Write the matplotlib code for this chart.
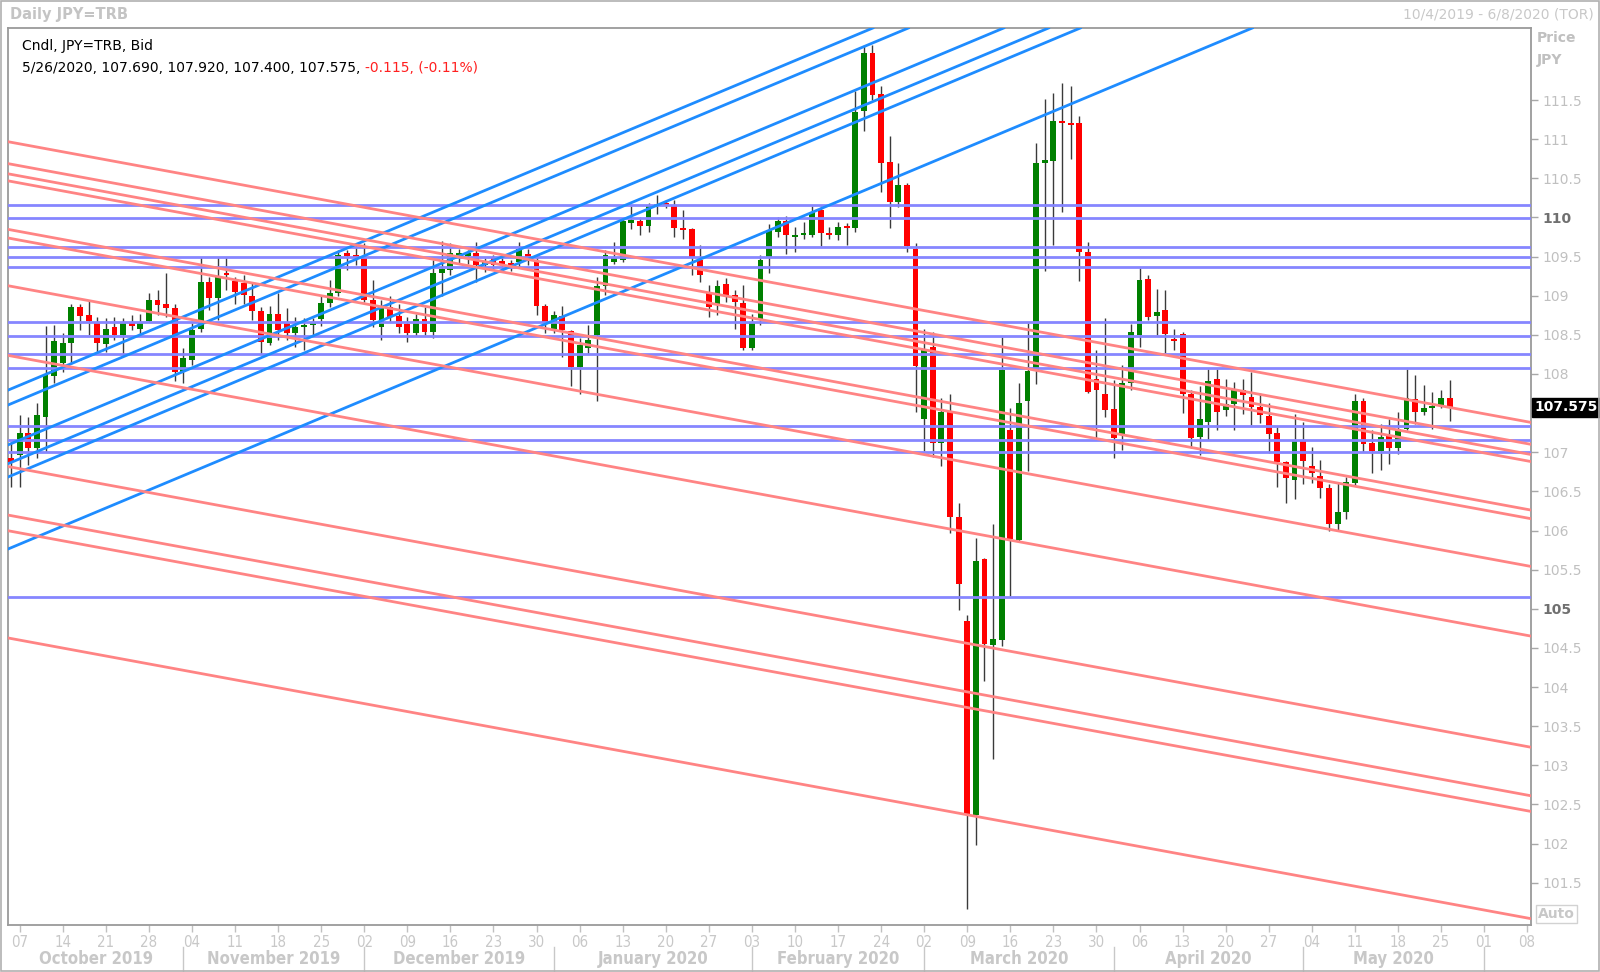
"""Daily JPY=TRB candlestick chart with drawn support / resistance lines."""

import matplotlib

matplotlib.use("Agg")
import matplotlib.pyplot as plt
import matplotlib.transforms as mtransforms
from matplotlib import font_manager
from matplotlib.patches import Rectangle
import numpy as np
import pandas as pd

START_DATE = "2019-10-04"
END_DATE = "2020-06-08"

# daily candles, 2019-10-04 .. 2020-05-26 (every weekday)
opens = [
    106.92, 106.96, 107.25, 107.05, 107.45, 107.97, 108.14, 108.40, 108.86, 108.75,
    108.65, 108.38, 108.60, 108.50, 108.65, 108.58, 108.68, 108.94, 108.89, 108.84,
    108.02, 108.18, 108.57, 109.17, 108.97, 109.29, 109.19, 109.16, 108.99, 108.80,
    108.39, 108.77, 108.65, 108.52, 108.60, 108.63, 108.70, 108.91, 109.04, 109.54,
    109.52, 109.48, 108.95, 108.60, 108.85, 108.74, 108.64, 108.52, 108.70, 108.54,
    109.29, 109.33, 109.51, 109.51, 109.55, 109.39, 109.48, 109.44, 109.41, 109.43,
    109.53, 109.46, 108.87, 108.58, 108.74, 108.55, 108.09, 108.33, 108.50, 109.12,
    109.43, 109.46, 109.93, 109.96, 109.89, 110.14, 110.18, 110.14, 109.87, 109.85,
    109.46, 109.05, 108.90, 109.15, 109.01, 108.91, 108.33, 108.70, 109.50, 109.82,
    109.96, 109.75, 109.77, 109.78, 110.09, 109.80, 109.77, 109.88, 109.86, 111.36,
    112.10, 111.58, 110.71, 110.20, 110.41, 109.60, 107.42, 108.34, 107.12, 107.51,
    106.17, 104.85, 102.36, 105.63, 104.54, 104.60, 107.29, 105.88, 107.66, 108.05,
    110.69, 110.72, 111.23, 111.21, 111.20, 109.56, 107.93, 107.74, 107.55, 107.22,
    107.88, 108.50, 109.21, 108.74, 108.82, 108.45, 108.51, 107.74, 107.20, 107.39,
    107.93, 107.54, 107.62, 107.80, 107.70, 107.58, 107.46, 107.25, 106.87, 106.65,
    107.14, 106.82, 106.70, 106.54, 106.08, 106.24, 106.61, 107.65, 107.12, 107.02,
    107.22, 107.05, 107.30, 107.68, 107.51, 107.57, 107.60, 107.69,
]
highs = [
    107.13, 107.47, 107.45, 107.63, 108.61, 108.62, 108.52, 108.90, 108.90, 108.94,
    108.73, 108.71, 108.73, 108.71, 108.75, 108.77, 109.03, 109.07, 109.29, 108.90,
    108.33, 108.65, 109.50, 109.24, 109.50, 109.50, 109.24, 109.26, 109.16, 108.86,
    108.87, 109.04, 108.84, 108.73, 108.71, 108.71, 108.99, 109.20, 109.58, 109.58,
    109.67, 109.67, 109.20, 108.95, 108.99, 108.90, 108.73, 108.77, 108.85, 109.45,
    109.70, 109.67, 109.60, 109.58, 109.69, 109.48, 109.52, 109.51, 109.46, 109.69,
    109.60, 109.50, 108.90, 108.80, 108.87, 108.56, 108.46, 108.63, 109.24, 109.58,
    109.69, 109.99, 110.14, 110.01, 110.18, 110.29, 110.22, 110.22, 110.09, 109.86,
    109.65, 109.14, 109.20, 109.22, 109.07, 109.14, 108.77, 109.52, 109.92, 110.01,
    110.02, 109.88, 109.94, 110.14, 110.14, 109.88, 109.94, 109.93, 111.61, 112.20,
    112.20, 111.68, 111.04, 110.69, 110.44, 109.67, 108.58, 108.54, 107.69, 107.75,
    106.35, 104.92, 105.91, 105.65, 106.08, 108.47, 107.57, 107.88, 108.65, 110.95,
    111.51, 111.59, 111.72, 111.68, 111.30, 109.68, 108.30, 108.72, 107.92, 108.11,
    108.64, 109.35, 109.26, 109.09, 109.07, 108.58, 108.53, 107.80, 107.84, 108.06,
    108.06, 107.94, 107.90, 107.93, 108.03, 107.76, 107.63, 107.32, 106.89, 107.49,
    107.39, 107.07, 106.90, 106.60, 106.61, 106.69, 107.74, 107.69, 107.28, 107.36,
    107.43, 107.51, 108.06, 107.99, 107.86, 107.77, 107.79, 107.92,
]
lows = [
    106.56, 106.55, 106.84, 106.92, 107.00, 107.88, 108.03, 108.13, 108.56, 108.50,
    108.28, 108.28, 108.44, 108.26, 108.56, 108.50, 108.67, 108.75, 108.73, 107.91,
    107.88, 108.11, 108.54, 108.82, 108.69, 109.07, 108.90, 108.90, 108.69, 108.26,
    108.37, 108.44, 108.43, 108.35, 108.31, 108.50, 108.61, 108.86, 108.99, 109.33,
    109.39, 108.92, 108.60, 108.43, 108.67, 108.52, 108.41, 108.48, 108.50, 108.46,
    108.99, 109.26, 109.42, 109.40, 109.18, 109.30, 109.33, 109.31, 109.31, 109.35,
    109.39, 108.75, 108.52, 108.52, 108.22, 107.84, 107.75, 108.26, 107.65, 109.01,
    109.41, 109.43, 109.85, 109.78, 109.82, 110.05, 110.12, 109.75, 109.73, 109.26,
    109.18, 108.73, 108.75, 108.92, 108.58, 108.31, 108.30, 108.62, 109.29, 109.75,
    109.53, 109.56, 109.73, 109.75, 109.63, 109.73, 109.71, 109.65, 109.82, 111.10,
    111.50, 110.32, 109.87, 110.13, 109.56, 107.51, 107.01, 106.94, 106.83, 105.97,
    104.98, 101.17, 101.98, 104.08, 103.08, 104.53, 105.16, 105.85, 106.76, 107.87,
    109.31, 109.65, 110.07, 110.74, 109.19, 107.76, 107.18, 107.45, 106.92, 107.03,
    107.80, 108.34, 108.69, 108.50, 108.27, 108.31, 107.50, 107.05, 106.97, 107.16,
    107.29, 107.46, 107.28, 107.49, 107.35, 107.37, 106.99, 106.56, 106.35, 106.40,
    106.60, 106.61, 106.41, 105.99, 105.99, 106.15, 106.58, 107.00, 106.74, 106.77,
    106.85, 106.98, 107.28, 107.36, 107.48, 107.30, 107.57, 107.40,
]
closes = [
    106.88, 107.25, 107.05, 107.47, 107.99, 108.42, 108.40, 108.86, 108.74, 108.68,
    108.39, 108.58, 108.50, 108.65, 108.61, 108.65, 108.94, 108.88, 108.84, 108.02,
    108.20, 108.56, 109.17, 108.97, 109.25, 109.26, 109.05, 109.01, 108.80, 108.41,
    108.77, 108.56, 108.52, 108.60, 108.63, 108.66, 108.91, 109.03, 109.52, 109.51,
    109.50, 108.95, 108.69, 108.85, 108.73, 108.60, 108.52, 108.70, 108.54, 109.29,
    109.34, 109.54, 109.55, 109.54, 109.39, 109.43, 109.39, 109.41, 109.39, 109.60,
    109.46, 108.87, 108.67, 108.75, 108.56, 108.09, 108.37, 108.43, 109.12, 109.52,
    109.48, 109.95, 109.97, 109.89, 110.14, 110.17, 110.16, 109.86, 109.84, 109.50,
    109.26, 108.86, 109.12, 109.00, 108.92, 108.33, 108.65, 109.46, 109.84, 109.96,
    109.77, 109.78, 109.79, 110.07, 109.80, 109.78, 109.88, 109.86, 111.35, 112.10,
    111.56, 110.70, 110.20, 110.41, 109.63, 108.10, 108.32, 107.12, 107.51, 106.17,
    105.32, 102.36, 105.61, 104.55, 104.61, 108.05, 105.89, 107.63, 108.04, 110.70,
    110.73, 111.23, 111.20, 111.18, 109.56, 107.77, 107.79, 107.54, 107.18, 107.89,
    108.53, 109.20, 108.73, 108.79, 108.51, 108.42, 107.75, 107.18, 107.43, 107.91,
    107.52, 107.62, 107.80, 107.73, 107.58, 107.48, 107.23, 106.87, 106.67, 107.14,
    106.89, 106.73, 106.54, 106.08, 106.24, 106.62, 107.66, 107.11, 107.02, 107.19,
    107.05, 107.30, 107.69, 107.51, 107.57, 107.59, 107.69, 107.575,
]

# horizontal levels drawn on the chart
level_prices = [110.16, 109.99, 109.62, 109.49, 109.37, 108.66, 108.49,
                108.25, 108.08, 107.34, 107.16, 107.00, 105.15]

# trend lines: price at the first and last date of the chart
line_dates = ["2019-10-04", "2020-06-08"]
support_start = [107.81, 107.62, 107.11, 106.87, 106.70, 105.78]
support_end = [115.92, 115.73, 115.22, 114.98, 114.81, 113.89]
resistance_start = [110.96, 110.68, 110.55, 110.46, 109.84, 109.73,
                    109.12, 108.23, 106.81, 106.19, 105.99, 104.62]
resistance_end = [107.39, 107.11, 106.98, 106.89, 106.27, 106.16,
                  105.55, 104.66, 103.24, 102.62, 102.42, 101.05]

price_ticks = [101.5, 102, 102.5, 103, 103.5, 104, 104.5, 105, 105.5, 106, 106.5,
               107, 107.5, 108, 108.5, 109, 109.5, 110, 110.5, 111, 111.5]
bold_ticks = [105, 110]

last_price = 107.575
header_top = "Cndl, JPY=TRB, Bid"
header_values = "5/26/2020, 107.690, 107.920, 107.400, 107.575, "
header_change = "-0.115, (-0.11%)"

W, H = 1600, 972
LIGHT = "#c4c4c4"


def fx(x):
    return x / W


def fy(y):
    return 1 - y / H


def pick_narrow_font():
    """Use a condensed face when one is installed, else plain DejaVu Sans."""
    fonts = font_manager.fontManager.ttflist
    names = {f.name for f in fonts}
    if "Liberation Sans Narrow" in names:
        return dict(family="Liberation Sans Narrow", stretch="normal"), 11.5, 13.5
    if any(f.name == "DejaVu Sans" and f.stretch == "condensed" for f in fonts):
        return dict(family="DejaVu Sans", stretch="condensed"), 10.8, 12.0
    return dict(family="DejaVu Sans", stretch="normal"), 9.3, 11.0


def main():
    narrow, day_size, month_size = pick_narrow_font()

    days = pd.bdate_range(START_DATE, END_DATE)
    candle_days = days[: len(opens)]
    x = np.arange(len(candle_days))
    o, h, l, c = (np.array(v) for v in (opens, highs, lows, closes))

    fig = plt.figure(figsize=(W / 100, H / 100), dpi=100)
    fig.patch.set_facecolor("white")
    ax = fig.add_axes([fx(8), fy(925), fx(1531 - 8), (925 - 28) / H])

    ax.set_xlim(-0.36, 176.45)
    ax.set_ylim(100.96, 112.42)

    # candles
    up = c >= o
    colors = np.where(up, "#008000", "#ff0000")
    ax.vlines(x, l, h, color="#3a3a3a", linewidth=1.0, zorder=2)
    bottoms = np.minimum(o, c)
    heights = np.maximum(np.abs(c - o), 0.025)
    ax.bar(x, heights, bottom=bottoms, width=0.68, color=colors, linewidth=0, zorder=3)

    # drawn lines
    for p in level_prices:
        ax.axhline(p, color="#8686ff", linewidth=2.0, zorder=4)
    x0, x1 = (days.get_loc(pd.Timestamp(d)) for d in line_dates)
    for s0, s1 in zip(support_start, support_end):
        ax.axline((x0, s0), (x1, s1), color="#1e8cff", linewidth=2.0, zorder=4)
    for r0, r1 in zip(resistance_start, resistance_end):
        ax.axline((x0, r0), (x1, r1), color="#ff8484", linewidth=2.0, zorder=4)

    # frame
    for side in ax.spines.values():
        side.set_color("#9a9a9a")
        side.set_linewidth(1.3)

    # right price axis (the label under the last-price box is hidden in the original)
    ax.yaxis.tick_right()
    tick_text = ["" if abs(p - last_price) < 0.15 else f"{p:g}" for p in price_ticks]
    ax.set_yticks(price_ticks, tick_text)
    ax.tick_params(axis="y", direction="out", length=5, width=1, color="#a8a8a8",
                   labelcolor="#c0c0c0", labelsize=10, pad=3)
    for lab, p in zip(ax.get_yticklabels(), price_ticks):
        if p in bold_ticks:
            lab.set_color("#707070")
            lab.set_fontweight("bold")

    # date axis: Mondays
    mondays = [i for i, d in enumerate(days) if d.weekday() == 0]
    ax.set_xticks(mondays, [f"{days[i].day:02d}" for i in mondays])
    ax.tick_params(axis="x", direction="out", length=5, width=1, color="#c0c0c0",
                   labelcolor="#c8c8c8", pad=2)
    for lab in ax.get_xticklabels():
        lab.set_fontfamily(narrow["family"])
        lab.set_fontstretch(narrow["stretch"])
        lab.set_fontsize(day_size)

    # month separators and labels
    month_starts = [i for i in range(1, len(days)) if days[i].month != days[i - 1].month]
    sep_tr = mtransforms.blended_transform_factory(ax.transData, fig.transFigure)
    for m in month_starts:
        ax.plot([m, m], [fy(947), fy(971)], transform=sep_tr, clip_on=False,
                color="#c8c8c8", linewidth=1.0)
    bounds = [-0.36] + month_starts
    for k in range(len(bounds) - 1):
        label = days[month_starts[k] - 1].strftime("%B %Y")
        ax.text((bounds[k] + bounds[k + 1]) / 2, fy(959), label, transform=sep_tr,
                ha="center", va="center", fontsize=month_size, fontweight="bold",
                fontfamily=narrow["family"], fontstretch=narrow["stretch"], color="#c8c8c8")

    # last price marker
    side_tr = mtransforms.blended_transform_factory(ax.transAxes, ax.transData)
    ax.text(1.0025, last_price, f"{last_price:.3f}", transform=side_tr, ha="left", va="center",
            color="white", fontsize=10, fontweight="bold", clip_on=False, zorder=10,
            bbox=dict(boxstyle="square,pad=0.18", facecolor="black", edgecolor="black"))
    ax.text(1.0045, 0.004, "Auto", transform=ax.transAxes, ha="left", va="bottom",
            color="#c8c8c8", fontsize=10, fontweight="bold", clip_on=False,
            bbox=dict(boxstyle="square,pad=0.15", facecolor="white", edgecolor="#d2d2d2"))

    # header texts
    fig.text(fx(10), fy(14), "Daily JPY=TRB", ha="left", va="center", fontsize=10.5,
             fontweight="bold", color=LIGHT)
    fig.text(fx(1594), fy(14), "10/4/2019 - 6/8/2020 (TOR)", ha="right", va="center",
             fontsize=10, color="#c8c8c8")
    fig.text(fx(1537), fy(38), "Price", ha="left", va="center", fontsize=10,
             fontweight="bold", color="#c0c0c0")
    fig.text(fx(1537), fy(60), "JPY", ha="left", va="center", fontsize=10,
             fontweight="bold", color="#c0c0c0")
    fig.text(fx(22), fy(46), header_top, ha="left", va="center", fontsize=10, color="black")
    values = fig.text(fx(22), fy(68), header_values, ha="left", va="center", fontsize=10,
                      color="black")
    fig.canvas.draw()
    end = values.get_window_extent().x1
    fig.text(end / W, fy(68), header_change, ha="left", va="center", fontsize=10,
             color="#ff2020")

    fig.add_artist(Rectangle((0.0005, 0.001), 0.999, 0.998, transform=fig.transFigure,
                             fill=False, edgecolor="#b0b0b0", linewidth=1.2))

    fig.savefig("out.png", dpi=100, facecolor="white")
    plt.close(fig)


if __name__ == "__main__":
    main()
